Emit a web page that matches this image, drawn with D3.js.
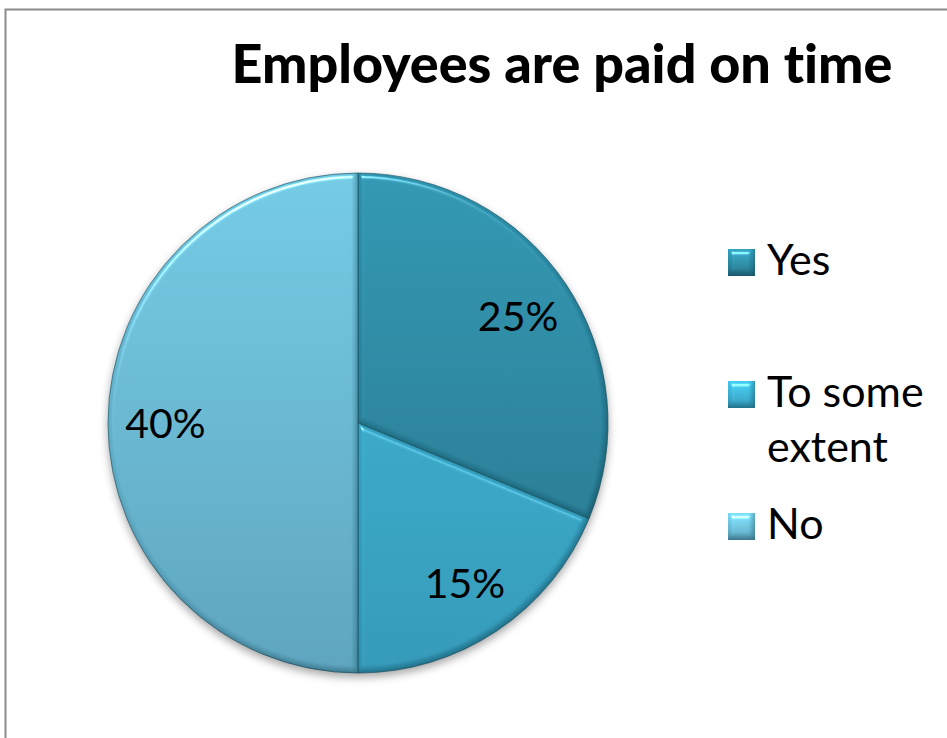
<!DOCTYPE html>
<html>
<head>
<meta charset="utf-8">
<script src="https://cdn.jsdelivr.net/npm/d3@7/dist/d3.min.js"></script>
<style>
  html, body { margin: 0; padding: 0; background: #fff; }
  svg { display: block; }
  text { font-variant-ligatures: none; font-feature-settings: "liga" 0, "clig" 0; }
</style>
</head>
<body>
<script>
// Survey answers for "Employees are paid on time"
const categories = ["Yes", "To some extent", "No"];
const values = [25, 15, 40];            // percent, as labelled on the slices
const legendLines = [["Yes"], ["To some", "extent"], ["No"]];
const title = "Employees are paid on time";

// top / bottom shades of each slice
const colorsTop = ["#2e93ae", "#3bb3d3", "#70c6df"];
const colorsBottom = ["#236f85", "#3195b4", "#599fb9"];

const W = 947, H = 738;
const cx = 358, cy = 423, r = 250;

const svg = d3.select("body").append("svg")
  .attr("width", W).attr("height", H);

const defs = svg.append("defs");

// vertical gradients for slices, spanning the pie's height
categories.forEach((c, i) => {
  const g = defs.append("linearGradient")
    .attr("id", "grad" + i)
    .attr("gradientUnits", "userSpaceOnUse")
    .attr("x1", 0).attr("y1", -r).attr("x2", 0).attr("y2", r);
  g.append("stop").attr("offset", "0%").attr("stop-color", colorsTop[i]);
  g.append("stop").attr("offset", "100%").attr("stop-color", colorsBottom[i]);

  const lg = defs.append("linearGradient")
    .attr("id", "lgrad" + i)
    .attr("x1", 0).attr("y1", 0).attr("x2", 0).attr("y2", 1);
  lg.append("stop").attr("offset", "0%").attr("stop-color", d3.color(colorsTop[i]).brighter(0.4));
  lg.append("stop").attr("offset", "100%").attr("stop-color", colorsBottom[i]);
});

// soft rounded bevel: edge highlight plus inner shade on the lower side
const bevel = defs.append("filter").attr("id", "bevel")
  .attr("color-interpolation-filters", "sRGB")
  .attr("x", "-10%").attr("y", "-10%").attr("width", "120%").attr("height", "120%");
bevel.append("feGaussianBlur").attr("in", "SourceAlpha").attr("stdDeviation", 2.5).attr("result", "blur");
const spec = bevel.append("feSpecularLighting")
  .attr("in", "blur").attr("surfaceScale", 4).attr("specularConstant", 0.6)
  .attr("specularExponent", 40).attr("lighting-color", "#ffffff").attr("result", "spec");
spec.append("feDistantLight").attr("azimuth", 250).attr("elevation", 45);
bevel.append("feComposite").attr("in", "spec").attr("in2", "SourceAlpha").attr("operator", "in").attr("result", "specIn");
bevel.append("feOffset").attr("in", "blur").attr("dx", -2).attr("dy", -3).attr("result", "offBlur");
bevel.append("feComposite").attr("in", "SourceAlpha").attr("in2", "offBlur").attr("operator", "out").attr("result", "shadeMask");
bevel.append("feFlood").attr("flood-color", "#0b3440").attr("flood-opacity", 0.4).attr("result", "shadeCol");
bevel.append("feComposite").attr("in", "shadeCol").attr("in2", "shadeMask").attr("operator", "in").attr("result", "shade");
bevel.append("feComposite").attr("in", "SourceGraphic").attr("in2", "specIn")
  .attr("operator", "arithmetic").attr("k1", 0).attr("k2", 1).attr("k3", 1).attr("k4", 0).attr("result", "lit");
const bm = bevel.append("feMerge");
bm.append("feMergeNode").attr("in", "lit");
bm.append("feMergeNode").attr("in", "shade");

// drop shadow under the whole pie
const shadow = defs.append("filter").attr("id", "shadow")
  .attr("color-interpolation-filters", "sRGB")
  .attr("x", "-10%").attr("y", "-10%").attr("width", "120%").attr("height", "125%");
shadow.append("feDropShadow").attr("dx", 0).attr("dy", 4).attr("stdDeviation", 4)
  .attr("flood-color", "#000").attr("flood-opacity", 0.35);

// chart frame
svg.append("rect")
  .attr("x", 5.5).attr("y", 9.5).attr("width", W + 20).attr("height", H + 20)
  .attr("fill", "none").attr("stroke", "#8c8c8c").attr("stroke-width", 2);

// title
svg.append("text")
  .attr("x", 562).attr("y", 83)
  .attr("text-anchor", "middle")
  .attr("font-family", "Lato, 'Open Sans', sans-serif")
  .attr("font-weight", 900)
  .attr("font-size", 54)
  .attr("textLength", 661)
  .attr("lengthAdjust", "spacingAndGlyphs")
  .attr("fill", "#000")
  .text(title);

// pie
const data = categories.map((c, i) => ({ cat: c, value: values[i], i }));
const pie = d3.pie().value(d => d.value).sort(null);
const arcs = pie(data);
const arc = d3.arc().innerRadius(0).outerRadius(r);
const labelArc = d3.arc().innerRadius(r * 0.77).outerRadius(r * 0.77);

const gPie = svg.append("g")
  .attr("transform", `translate(${cx},${cy})`)
  .attr("filter", "url(#shadow)");

gPie.selectAll("path.slice")
  .data(arcs)
  .join("path")
  .attr("class", "slice")
  .attr("d", arc)
  .attr("fill", d => `url(#grad${d.data.i})`)
  .attr("stroke", "#1d5566")
  .attr("stroke-opacity", 0.6)
  .attr("stroke-width", 1)
  .attr("filter", "url(#bevel)");

const gLabels = svg.append("g").attr("transform", `translate(${cx},${cy})`);
gLabels.selectAll("text")
  .data(arcs)
  .join("text")
  .attr("transform", d => `translate(${labelArc.centroid(d)})`)
  .attr("text-anchor", "middle")
  .attr("dy", "0.36em")
  .attr("font-family", "Lato, 'Open Sans', sans-serif")
  .attr("font-size", 41)
  .attr("fill", "#000")
  .text(d => d.data.value + "%");

// legend
const legendY = [262, 394, 526];
const legend = svg.append("g");
const items = legend.selectAll("g.item")
  .data(data)
  .join("g")
  .attr("class", "item")
  .attr("transform", (d, i) => `translate(728,${legendY[i]})`);

items.append("rect")
  .attr("x", 0).attr("y", -13)
  .attr("width", 27).attr("height", 27)
  .attr("fill", d => `url(#lgrad${d.i})`)
  .attr("filter", "url(#bevel)");

items.append("text")
  .attr("font-family", "Lato, 'Open Sans', sans-serif")
  .attr("font-size", 43)
  .attr("fill", "#000")
  .each(function (d) {
    const t = d3.select(this);
    legendLines[d.i].forEach((line, k) => {
      t.append("tspan").attr("x", 39).attr("y", 13 + k * 55).text(line);
    });
  });
</script>
</body>
</html>
